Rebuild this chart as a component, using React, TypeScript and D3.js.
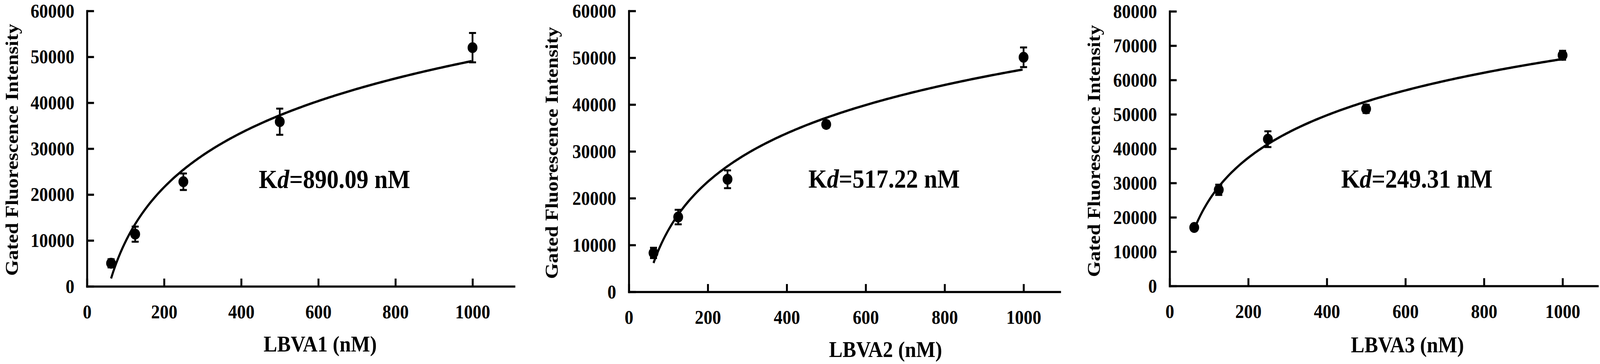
import { useRef, useEffect } from 'react'
import * as d3 from 'd3'

// concentrations of the aptamer (nM), same for all three panels
const concentrations = [62.5, 125, 250, 500, 1000]

// mean gated fluorescence and error
const lbva1Mean = [5030, 11370, 22790, 35870, 52000]
const lbva1Err = [900, 1650, 1800, 2850, 3200]
const lbva2Mean = [8310, 15970, 24040, 35760, 50100]
const lbva2Err = [1100, 1550, 1900, 700, 2100]
const lbva3Mean = [17040, 28010, 42760, 51580, 67200]
const lbva3Err = [800, 1500, 2300, 1200, 1300]

const kdValues = ['890.09', '517.22', '249.31']
const xTitles = ['LBVA1 (nM)', 'LBVA2 (nM)', 'LBVA3 (nM)']
const yTitle = 'Gated Fluorescence Intensity'

const xTicks = [0, 200, 400, 600, 800, 1000]
const yTicks60 = [0, 10000, 20000, 30000, 40000, 50000, 60000]
const yTicks80 = [0, 10000, 20000, 30000, 40000, 50000, 60000, 70000, 80000]

const WIDTH = 4562
const HEIGHT = 933
const FONT = '"Liberation Serif", "Times New Roman", serif'

// pixel layout of each panel
const layout = [
  { x0: 248, xEnd: 1466, xMax: 1108, y0: 734, yTop: 28, titleX: 33, titleY: 384, xTitleX: 913, xTitleY: 901, kdX: 738, kdY: 482 },
  { x0: 1793, xEnd: 3022, xMax: 1092, y0: 748, yTop: 28, titleX: 1572, titleY: 392, xTitleX: 2525, xTitleY: 915, kdX: 2305, kdY: 481 },
  { x0: 3335, xEnd: 4555, xMax: 1089, y0: 733, yTop: 29, titleX: 3118, titleY: 387, xTitleX: 4013, xTitleY: 903, kdX: 3824, kdY: 481 },
]

const panels = [
  { mean: lbva1Mean, err: lbva1Err, yTicks: yTicks60 },
  { mean: lbva2Mean, err: lbva2Err, yTicks: yTicks60 },
  { mean: lbva3Mean, err: lbva3Err, yTicks: yTicks80 },
]

// Excel-style logarithmic trendline: y = a ln(x) + b (least squares)
function logFit(xs: number[], ys: number[]) {
  const lx = xs.map(Math.log)
  const mx = d3.mean(lx)!
  const my = d3.mean(ys)!
  const sxy = d3.sum(lx, (v, i) => (v - mx) * (ys[i] - my))
  const sxx = d3.sum(lx, v => (v - mx) ** 2)
  const a = sxy / sxx
  const b = my - a * mx
  return (x: number) => a * Math.log(x) + b
}

export default function App() {
  const svgRef = useRef<SVGSVGElement>(null)

  useEffect(() => {
    document.body.style.margin = '0'
    document.body.style.overflow = 'hidden'
    document.documentElement.style.overflow = 'hidden'
    if (!svgRef.current) return

    const svg = d3.select(svgRef.current)
    svg.selectAll('*').remove()

    panels.forEach((p, k) => {
      const L = layout[k]
      const yMax = p.yTicks[p.yTicks.length - 1]

      const x = d3.scaleLinear().domain([0, L.xMax]).range([L.x0, L.xEnd])
      const y = d3.scaleLinear().domain([0, yMax]).range([L.y0, L.yTop])

      const g = svg.append('g')

      // y axis, ticks pointing inward
      const yAxis = g.append('g')
        .attr('transform', `translate(${L.x0},0)`)
        .call(d3.axisLeft(y).tickValues(p.yTicks).tickSizeInner(-20).tickSizeOuter(0).tickPadding(36).tickFormat(d3.format('d')))

      // x axis, ticks pointing inward
      const xAxis = g.append('g')
        .attr('transform', `translate(0,${L.y0})`)
        .call(d3.axisBottom(x).tickValues(xTicks).tickSizeInner(-20).tickSizeOuter(0).tickPadding(47).tickFormat(d3.format('d')))

      ;[yAxis, xAxis].forEach(ax => {
        ax.attr('font-family', FONT).attr('font-size', 50).attr('font-weight', 'bold')
        ax.select('.domain').attr('stroke', '#000').attr('stroke-width', 5.5).attr('stroke-linecap', 'square')
        ax.selectAll('.tick line').attr('stroke', '#000').attr('stroke-width', 5.5)
        ax.selectAll('.tick text').attr('fill', '#000')
      })

      // trendline
      const fit = logFit(concentrations, p.mean)
      const xs = d3.range(concentrations[0], concentrations[concentrations.length - 1] + 0.01, 5)
      const line = d3.line<number>().x(d => x(d)).y(d => y(fit(d)))
      g.append('path')
        .datum(xs)
        .attr('d', line)
        .attr('fill', 'none')
        .attr('stroke', '#000')
        .attr('stroke-width', 6)

      // error bars
      const bars = g.selectAll('.err')
        .data(concentrations)
        .enter()
        .append('g')
        .attr('class', 'err')
        .attr('stroke', '#000')
        .attr('stroke-width', 5)

      bars.append('line')
        .attr('x1', d => x(d)).attr('x2', d => x(d))
        .attr('y1', (d, i) => y(p.mean[i] - p.err[i]))
        .attr('y2', (d, i) => y(p.mean[i] + p.err[i]))
      bars.append('line')
        .attr('x1', d => x(d) - 10).attr('x2', d => x(d) + 10)
        .attr('y1', (d, i) => y(p.mean[i] + p.err[i]))
        .attr('y2', (d, i) => y(p.mean[i] + p.err[i]))
      bars.append('line')
        .attr('x1', d => x(d) - 10).attr('x2', d => x(d) + 10)
        .attr('y1', (d, i) => y(p.mean[i] - p.err[i]))
        .attr('y2', (d, i) => y(p.mean[i] - p.err[i]))

      // points
      g.selectAll('.dot')
        .data(concentrations)
        .enter()
        .append('circle')
        .attr('class', 'dot')
        .attr('cx', d => x(d))
        .attr('cy', (d, i) => y(p.mean[i]))
        .attr('r', 14)
        .attr('fill', '#000')

      // axis titles
      g.append('text')
        .attr('transform', `translate(${L.titleX},${L.titleY}) rotate(-90)`)
        .attr('text-anchor', 'middle')
        .attr('dy', '0.35em')
        .attr('font-family', FONT)
        .attr('font-size', 52)
        .attr('font-weight', 'bold')
        .text(yTitle)

      g.append('text')
        .attr('x', L.xTitleX)
        .attr('y', L.xTitleY)
        .attr('text-anchor', 'middle')
        .attr('font-family', FONT)
        .attr('font-size', 58)
        .attr('font-weight', 'bold')
        .text(xTitles[k])

      // Kd annotation
      const kd = g.append('text')
        .attr('x', L.kdX)
        .attr('y', L.kdY)
        .attr('font-family', FONT)
        .attr('font-size', 68)
        .attr('font-weight', 'bold')
      kd.append('tspan').text('K')
      kd.append('tspan').attr('font-style', 'italic').text('d')
      kd.append('tspan').text(`=${kdValues[k]} nM`)
    })
  }, [])

  // scale the drawing to the viewport so the whole figure fits the window
  return (
    <svg
      ref={svgRef}
      viewBox={`0 0 ${WIDTH} ${HEIGHT}`}
      preserveAspectRatio="none"
      style={{ display: 'block', width: '100vw', height: '100vh', background: '#fff' }}
    />
  )
}
